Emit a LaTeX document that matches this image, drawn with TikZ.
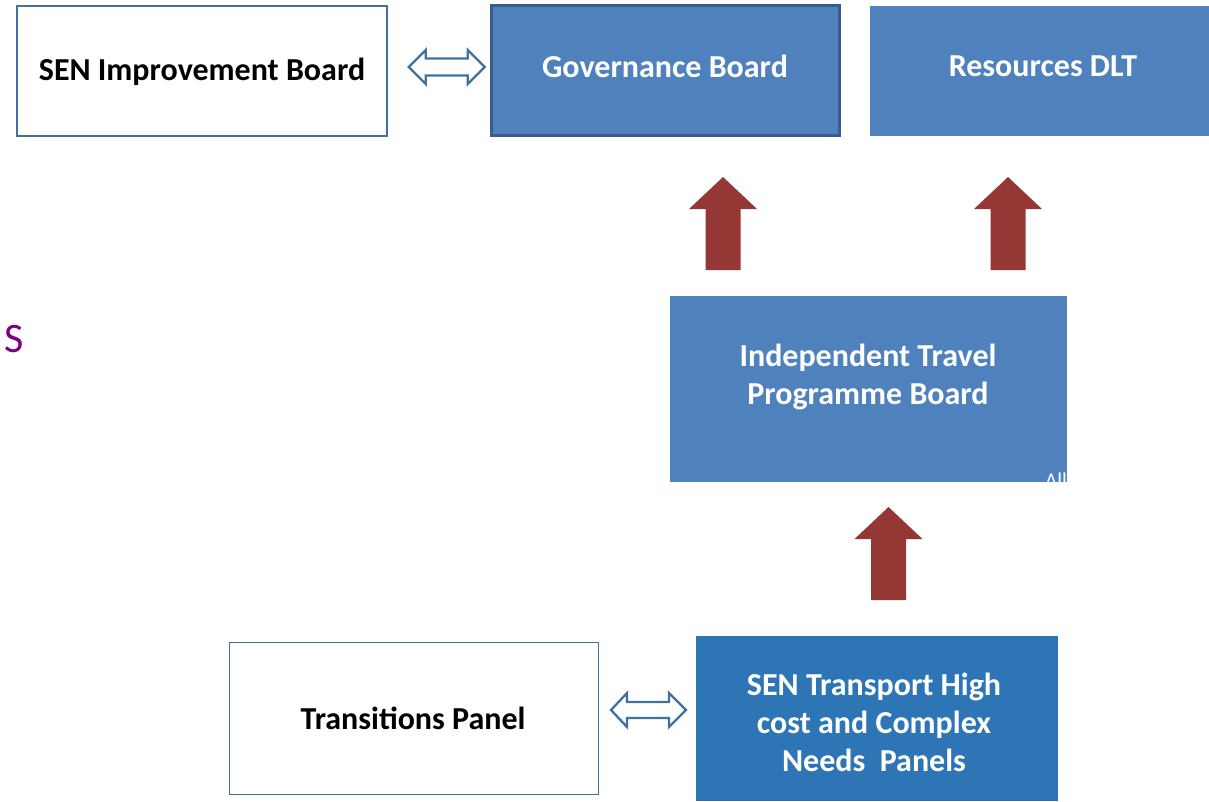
\documentclass[tikz,border=0pt]{standalone}
\usepackage{fontspec}
\setmainfont{Carlito}
\definecolor{boardblue}{HTML}{4F81BD}
\definecolor{boardedge}{HTML}{385D8A}
\definecolor{panelblue}{HTML}{2E75B6}
\definecolor{upred}{HTML}{953735}
\definecolor{outlineblue}{HTML}{41719C}
\definecolor{titlepurple}{HTML}{7F007F}
\tikzset{
  board/.style={rectangle, inner sep=0pt, align=center, text=white,
    font=\fontsize{32}{38}\selectfont\bfseries},
  whiteboard/.style={board, fill=white, draw=outlineblue, text=black},
  blueboard/.style={board, fill=boardblue},
  twoway/.style={draw=outlineblue, line width=2.3pt, fill=white, line join=miter},
  upward/.style={fill=upred}
}
\begin{document}
\begin{tikzpicture}[x=1pt,y=-1pt]
  \useasboundingbox (0,0) rectangle (1209,801);
  % top row
  \node[whiteboard, line width=1.5pt, minimum width=370, minimum height=130] (sib) at (202,71) {};
  \node[board, text=black] (sibtext) at (202,72) {SEN Improvement Board};
  \node[blueboard, draw=boardedge, line width=2.5pt, minimum width=348, minimum height=130] (gov) at (665.5,70.5) {};
  \node[board] (govtext) at (665,66.5) {Governance Board};
  \node[blueboard, minimum width=339, minimum height=130, anchor=north west] (dlt) at (870,6) {};
  \node[board] (dlttext) at (1043,66.5) {Resources DLT};
  % middle
  \node[blueboard, minimum width=397, minimum height=186, anchor=north west] (itp) at (670,296) {};
  \node[board] (itptext) at (868,377) {Independent Travel\\Programme Board};
  \begin{scope}
    \clip (itp.south west) rectangle (itp.north east);
    \node[anchor=base west, inner sep=0pt, text=white, font=\fontsize{21}{24}\selectfont] (alltext) at (1045,487) {All};
  \end{scope}
  % bottom row
  \node[whiteboard, line width=1pt, minimum width=369, minimum height=152] (tp) at (413.5,718) {};
  \node[board, text=black] (tptext) at (413,718) {Transitions Panel};
  \node[board, fill=panelblue, minimum width=362, minimum height=165, anchor=north west] (sen) at (696,636) {};
  \node[board] (sentext) at (874,722.5) {SEN Transport High\\cost and Complex\\Needs\ \ Panels};
  \node[anchor=base west, inner sep=0pt, text=titlepurple, font=\fontsize{42}{48}\selectfont] (lefts) at (4,352.5) {S};
  % two way arrows
  \draw[twoway] ([xshift=21]sib.east |- gov.west) ++(0,-3.5) -- ++(17,-17) -- ++(0,8.5) -- ++(42,0) -- ++(0,-8.5)
    -- ++(17,17) -- ++(-17,17) -- ++(0,-8.5) -- ++(-42,0) -- ++(0,8.5) -- cycle;
  \draw[twoway] ([xshift=-85]sen.west |- tp.east) ++(0,-8) -- ++(16,-17) -- ++(0,9) -- ++(42,0) -- ++(0,-9)
    -- ++(17,17) -- ++(-17,17) -- ++(0,-9) -- ++(-42,0) -- ++(0,9) -- cycle;
  % upward arrows
  \foreach \cx/\ty in {723/177, 1008/177, 888.5/507}
    \fill[upward] (\cx-17.5,\ty+93) -- ++(0,-61) -- ++(-16.5,0) -- ++(34,-32) -- ++(34,32) -- ++(-16.5,0) -- ++(0,61) -- cycle;
\end{tikzpicture}
\end{document}
